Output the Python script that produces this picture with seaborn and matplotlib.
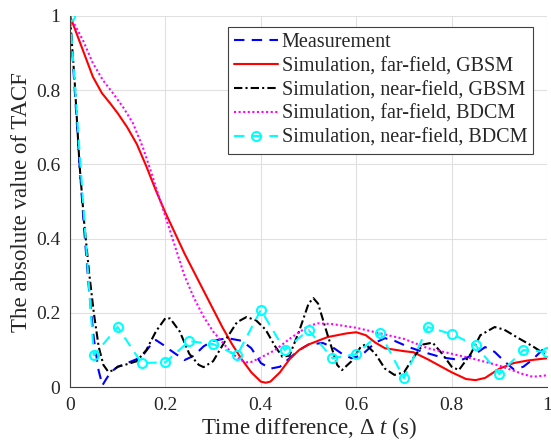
import numpy as np
import pandas as pd
import matplotlib
matplotlib.use("Agg")
import matplotlib.pyplot as plt
import seaborn as sns

# ---------------- data ----------------
meas_x = [0.0, 0.01, 0.02, 0.03, 0.04, 0.05, 0.06, 0.068, 0.075, 0.085, 0.10, 0.12, 0.15, 0.17, 0.18,
          0.20, 0.21, 0.24, 0.26, 0.28, 0.30, 0.33, 0.36, 0.38, 0.40, 0.42, 0.44, 0.46, 0.48, 0.50,
          0.53, 0.55, 0.57, 0.59, 0.61, 0.64, 0.66, 0.68, 0.71, 0.74, 0.78, 0.82, 0.85, 0.87, 0.89,
          0.91, 0.93, 0.95, 0.97, 1.0]
meas_y = [1.0, 0.80, 0.60, 0.42, 0.26, 0.13, 0.045, 0.005, 0.02, 0.04, 0.055, 0.065, 0.081, 0.115, 0.127,
          0.11, 0.10, 0.073, 0.085, 0.11, 0.125, 0.132, 0.125, 0.105, 0.065, 0.05, 0.055, 0.078, 0.10, 0.115,
          0.119, 0.108, 0.09, 0.078, 0.085, 0.12, 0.132, 0.125, 0.108, 0.095, 0.08, 0.073, 0.09, 0.108, 0.095,
          0.07, 0.048, 0.055, 0.075, 0.113]

gbsm_far_x = [0.0, 0.027, 0.048, 0.067, 0.084, 0.10, 0.12, 0.14, 0.16, 0.18, 0.20, 0.22, 0.24, 0.26,
              0.28, 0.30, 0.32, 0.34, 0.36, 0.38, 0.40, 0.41, 0.42, 0.44, 0.46, 0.48, 0.50, 0.54, 0.58,
              0.60, 0.62, 0.64, 0.66, 0.70, 0.72, 0.75, 0.78, 0.80, 0.83, 0.85, 0.87, 0.90, 0.93, 0.96, 1.0]
gbsm_far_y = [1.0, 0.908, 0.836, 0.792, 0.765, 0.738, 0.70, 0.655, 0.595, 0.53, 0.47, 0.415, 0.36, 0.31,
              0.26, 0.21, 0.16, 0.115, 0.075, 0.04, 0.015, 0.012, 0.015, 0.04, 0.075, 0.10, 0.115, 0.135, 0.145,
              0.148, 0.14, 0.12, 0.105, 0.097, 0.094, 0.075, 0.054, 0.04, 0.022, 0.019, 0.025, 0.05, 0.065, 0.072, 0.078]

gbsm_near_x = [0.0, 0.01, 0.02, 0.03, 0.04, 0.05, 0.06, 0.07, 0.08, 0.09, 0.10, 0.12, 0.14, 0.16, 0.18,
               0.20, 0.21, 0.23, 0.25, 0.27, 0.28, 0.30, 0.33, 0.35, 0.37, 0.39, 0.41, 0.43, 0.445, 0.46,
               0.48, 0.50, 0.51, 0.52, 0.54, 0.56, 0.57, 0.59, 0.61, 0.62, 0.64, 0.66, 0.68, 0.70, 0.72,
               0.74, 0.76, 0.78, 0.80, 0.815, 0.84, 0.86, 0.89, 0.91, 0.94, 0.97, 1.0]
gbsm_near_y = [1.0, 0.82, 0.60, 0.44, 0.31, 0.20, 0.11, 0.06, 0.042, 0.045, 0.055, 0.062, 0.07, 0.10, 0.15,
               0.186, 0.185, 0.15, 0.09, 0.06, 0.054, 0.07, 0.135, 0.175, 0.189, 0.18, 0.155, 0.11, 0.082, 0.085,
               0.15, 0.225, 0.24, 0.225, 0.14, 0.06, 0.046, 0.07, 0.11, 0.115, 0.09, 0.05, 0.033, 0.04, 0.08,
               0.115, 0.12, 0.09, 0.055, 0.046, 0.09, 0.14, 0.162, 0.155, 0.132, 0.11, 0.085]

bdcm_far_x = [0.0, 0.027, 0.048, 0.069, 0.09, 0.111, 0.132, 0.153, 0.17, 0.182, 0.20, 0.22, 0.24, 0.26,
              0.28, 0.30, 0.32, 0.34, 0.36, 0.37, 0.38, 0.40, 0.43, 0.46, 0.50, 0.52, 0.55, 0.60, 0.65,
              0.70, 0.75, 0.80, 0.85, 0.90, 0.95, 0.97, 1.0]
bdcm_far_y = [1.0, 0.935, 0.873, 0.827, 0.792, 0.755, 0.711, 0.645, 0.58, 0.531, 0.46, 0.38, 0.30, 0.24,
              0.19, 0.15, 0.12, 0.09, 0.072, 0.067, 0.068, 0.08, 0.10, 0.13, 0.165, 0.172, 0.17, 0.16, 0.145,
              0.13, 0.105, 0.09, 0.075, 0.058, 0.035, 0.028, 0.032]

bdcm_near_x = [0.0, 0.05, 0.10, 0.15, 0.20, 0.25, 0.30, 0.35, 0.40, 0.45, 0.50, 0.55, 0.60, 0.65, 0.70,
               0.75, 0.80, 0.85, 0.90, 0.95, 1.0]
bdcm_near_y = [1.0, 0.086, 0.162, 0.065, 0.067, 0.124, 0.116, 0.086, 0.208, 0.10, 0.154, 0.078, 0.089,
               0.146, 0.024, 0.162, 0.143, 0.113, 0.035, 0.10, 0.095]

labels = ["Measurement", "Simulation, far-field, GBSM", "Simulation, near-field, GBSM",
          "Simulation, far-field, BDCM", "Simulation, near-field, BDCM"]
xticks = [0, 0.2, 0.4, 0.6, 0.8, 1]
tick_labels = ["0", "0.2", "0.4", "0.6", "0.8", "1"]

# ---------------- style ----------------
sns.set_style("white")
plt.rcParams["font.family"] = ["Liberation Serif", "DejaVu Serif"]
plt.rcParams["mathtext.fontset"] = "custom"
plt.rcParams["mathtext.rm"] = "Liberation Serif"
plt.rcParams["mathtext.it"] = "Liberation Serif:italic"

fig = plt.figure(figsize=(5.51, 4.43), dpi=100)
ax = fig.add_axes([0.127, 0.126, 0.866, 0.838])

lw = 1.5
series = [
    (meas_x, meas_y, labels[0], dict(color="#0000FF", linestyle=(0, (5, 3.5)))),
    (gbsm_far_x, gbsm_far_y, labels[1], dict(color="#FF0000", linestyle="-")),
    (gbsm_near_x, gbsm_near_y, labels[2], dict(color="#000000", linestyle=(0, (4, 1.5, 1, 1.5)))),
    (bdcm_far_x, bdcm_far_y, labels[3], dict(color="#FF00FF", linestyle=(0, (1, 1.2)))),
    (bdcm_near_x, bdcm_near_y, labels[4], dict(color="#00FFFF", linestyle=(0, (5, 3.5)),
                                              marker="o", markersize=6.5, markerfacecolor="none",
                                              markeredgewidth=1.5, markeredgecolor="#00FFFF")),
]
for xs, ys, lab, kw in series:
    df = pd.DataFrame({"x": xs, "y": ys})
    sns.lineplot(data=df, x="x", y="y", ax=ax, sort=False, estimator=None,
                 linewidth=lw, label=lab, **kw)

ax.set_xlim(0, 1)
ax.set_ylim(0, 1)
ax.set_xticks(xticks)
ax.set_xticklabels(tick_labels)
ax.set_yticks(xticks)
ax.set_yticklabels(tick_labels)
ax.grid(True, color="#E0E0E0", linewidth=0.8)
ax.set_axisbelow(True)
for s in ["top", "right"]:
    ax.spines[s].set_visible(False)
for s in ["left", "bottom"]:
    ax.spines[s].set_color("#404040")
    ax.spines[s].set_linewidth(0.8)
ax.tick_params(direction="in", length=5, width=0.8, color="#404040",
               labelsize=14, labelcolor="#262626", pad=7)
ax.set_xlabel("Time difference, Δ $t$ (s)", fontsize=16.5, color="#262626", labelpad=1)
ax.set_ylabel("The absolute value of TACF", fontsize=16.5, color="#262626", labelpad=3)

leg = ax.legend(loc="upper right", bbox_to_anchor=(0.971, 0.970), borderaxespad=0,
                fontsize=14.5, frameon=True, fancybox=False, framealpha=1,
                edgecolor="#404040", handlelength=2.15, handletextpad=0.2,
                labelspacing=0.24, borderpad=0.3)
leg.get_frame().set_linewidth(0.8)

fig.savefig("out.png", dpi=100)
